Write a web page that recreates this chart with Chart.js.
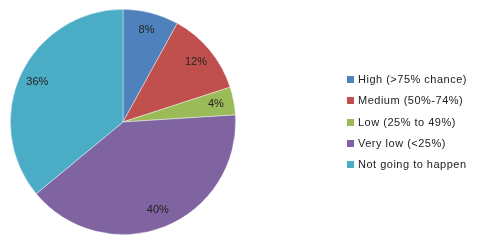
<!DOCTYPE html>
<html><head><meta charset="utf-8">
<script src="https://cdn.jsdelivr.net/npm/chart.js@4"></script>
<style>
html,body{margin:0;padding:0;background:#fff;}
#wrap{position:relative;width:477px;height:244px;}
#legend{position:absolute;left:347px;top:72px;font:11px "Liberation Sans",Arial,sans-serif;letter-spacing:0.5px;color:#222;}
.row{height:21.3px;line-height:14px;white-space:nowrap;position:relative;}
.box{position:absolute;left:0;top:4px;width:7px;height:7px;}
.lab{position:absolute;left:11px;top:0;}
</style></head>
<body><div id="wrap"><canvas id="c" width="477" height="244"></canvas><div id="legend"></div></div>
<script>
const categories = ["High (>75% chance)", "Medium (50%-74%)", "Low (25% to 49%)", "Very low (<25%)", "Not going to happen"];
const values = [8, 12, 4, 40, 36];
const labels = ["8%", "12%", "4%", "40%", "36%"];
const colors = ["#4F81BD", "#C0504D", "#9BBB59", "#8064A2", "#4BACC6"];

const leg = document.getElementById('legend');
categories.forEach((c,i)=>{
  const r=document.createElement('div');r.className='row';
  const b=document.createElement('div');b.className='box';b.style.background=colors[i];
  const t=document.createElement('div');t.className='lab';t.textContent=c;
  r.appendChild(b);r.appendChild(t);leg.appendChild(r);
});

const labelPlugin = {
  id:'pctLabels',
  afterDatasetsDraw(chart){
    const ctx=chart.ctx;
    const meta=chart.getDatasetMeta(0);
    ctx.save();
    ctx.font='11px "Liberation Sans", Arial, sans-serif';
    ctx.fillStyle='#222';
    ctx.textAlign='center';ctx.textBaseline='middle';
    meta.data.forEach((arc,i)=>{
      const p=arc.getProps(['x','y','startAngle','endAngle','outerRadius'],true);
      const a=(p.startAngle+p.endAngle)/2;
      const r=p.outerRadius*0.84;
      ctx.fillText(labels[i], p.x+Math.cos(a)*r, p.y+Math.sin(a)*r);
    });
    ctx.restore();
  }
};

new Chart(document.getElementById('c'),{
  type:'pie',
  data:{labels:categories,datasets:[{data:values,backgroundColor:colors,borderColor:'rgba(255,255,255,0.6)',borderWidth:0.7}]},
  options:{
    responsive:false,animation:false,
    layout:{padding:{left:10,right:241,top:9,bottom:9}},
    plugins:{legend:{display:false},tooltip:{enabled:false}}
  },
  plugins:[labelPlugin]
});
</script></body></html>
